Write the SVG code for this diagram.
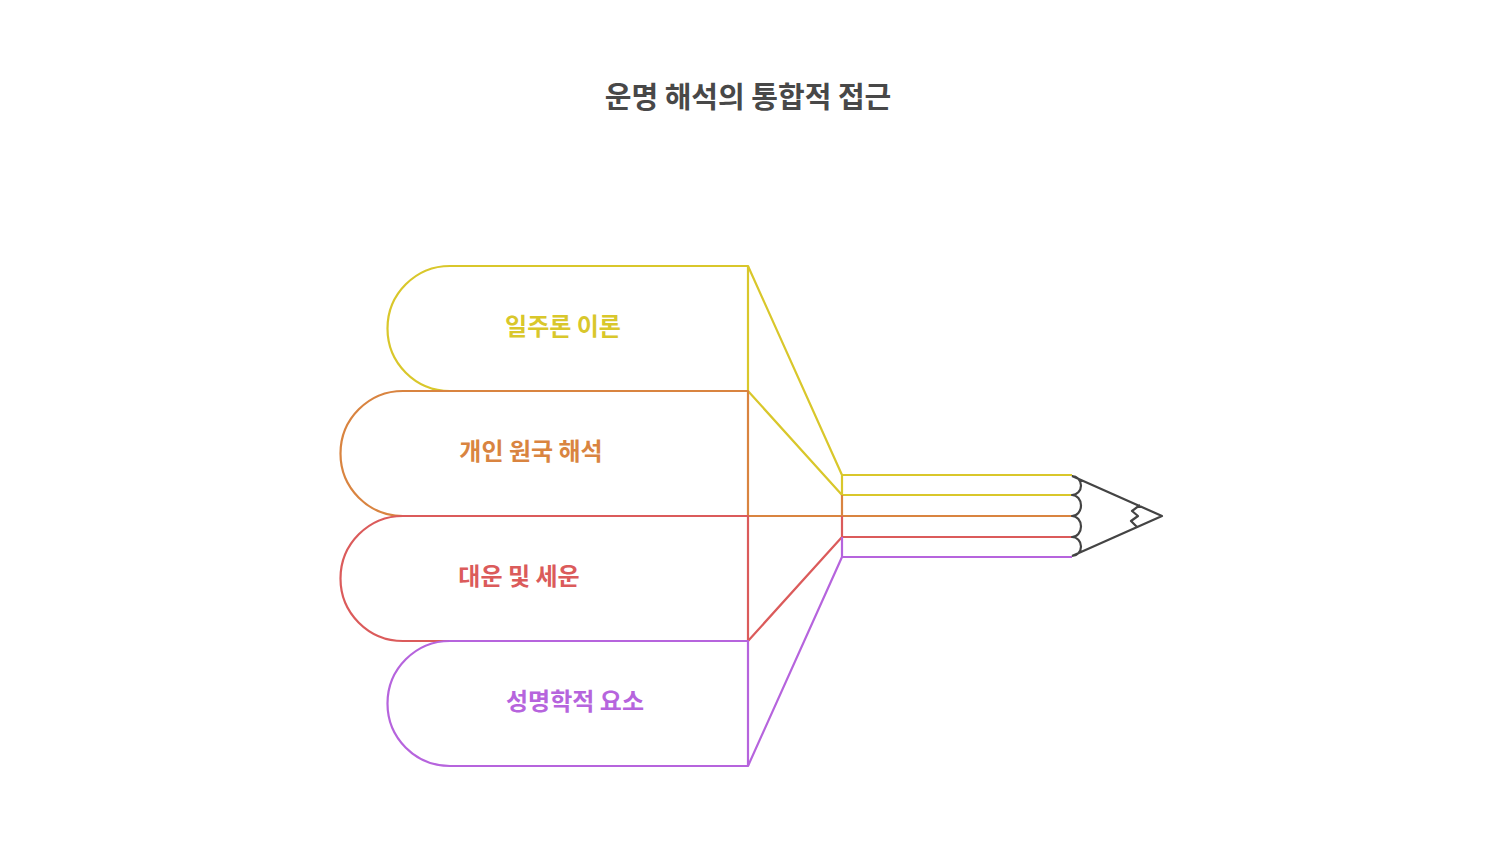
<svg xmlns="http://www.w3.org/2000/svg" width="1504" height="845" viewBox="0 0 1504 845">
<style>
.s{fill:none;stroke-width:2.2;stroke-linejoin:round}
.t{font-family:"Noto Sans CJK KR","Noto Sans",sans-serif;font-weight:700;font-size:24px;text-anchor:middle}
.y{stroke:#D9C72B}.o{stroke:#D98440}.r{stroke:#DB5B5B}.p{stroke:#B664DD}
</style>
<rect width="1504" height="845" fill="#fff"/>
<text x="748" y="108" class="t" style="font-size:29px" fill="#484848">운명 해석의 통합적 접근</text>
<g id="connectors">
<path class="s y" d="M748 266L842 475M748 391L842 495M842 475V495M842 475H1072M842 495H1072"/>
<path class="s o" d="M842 495V516M748 516H1072"/>
<path class="s r" d="M748 641L842 537V516M842 537H1072"/>
<path class="s p" d="M748 766L842 557V537M842 557H1072"/>
</g>
<g id="pencil">
<path class="s" stroke="#444" d="M1072 476L1162 516L1072 556M1072 476A9 9.5 0 0 1 1072 495A9 10.5 0 0 1 1072 516A9 10.5 0 0 1 1072 537A9 9.5 0 0 1 1072 556M1140 505L1132 511L1138 516L1131 521L1137 527"/>
</g>
<g id="n1"><path class="s y" d="M748 266V391H450A62.5 62.5 0 0 1 450 266Z"/><text class="t" x="563" y="335" fill="#D9C72B">일주론 이론</text></g>
<g id="n2"><path class="s o" d="M748 391V516H403A62.5 62.5 0 0 1 403 391Z"/><text class="t" x="531" y="460" fill="#D98440">개인 원국 해석</text></g>
<g id="n3"><path class="s r" d="M748 516V641H403A62.5 62.5 0 0 1 403 516Z"/><text class="t" x="519" y="585" fill="#DB5B5B">대운 및 세운</text></g>
<g id="n4"><path class="s p" d="M748 641V766H450A62.5 62.5 0 0 1 450 641Z"/><text class="t" x="575" y="710" fill="#B664DD">성명학적 요소</text></g>
</svg>
